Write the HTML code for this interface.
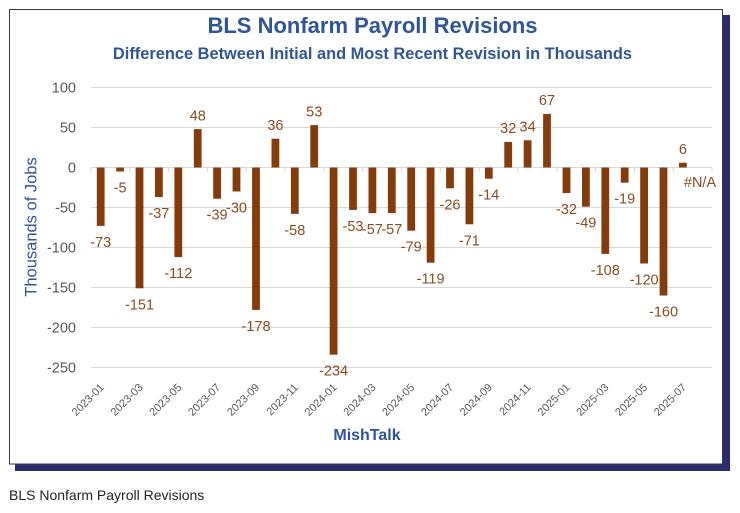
<!DOCTYPE html>
<html>
<head>
<meta charset="utf-8">
<style>
  html, body { margin:0; padding:0; background:#ffffff; }
  body { width:740px; height:513px; overflow:hidden; }
  svg { display:block; }
  text { font-family: "Liberation Sans", sans-serif; }
</style>
</head>
<body>
<svg width="740" height="513" viewBox="0 0 740 513" xmlns="http://www.w3.org/2000/svg">
  <!-- shadow -->
  <rect x="15" y="15" width="715" height="456" fill="#2a2c6e"/>
  <!-- frame -->
  <rect x="9.5" y="9.5" width="713" height="454.5" fill="#ffffff" stroke="#3a3a3a" stroke-width="1"/>

  <!-- titles -->
  <text x="372.5" y="33" text-anchor="middle" font-size="22" font-weight="bold" fill="#2f5597">BLS Nonfarm Payroll Revisions</text>
  <text x="372.5" y="59" text-anchor="middle" font-size="16.4" font-weight="bold" fill="#2f5597">Difference Between Initial and Most Recent Revision in Thousands</text>

  <!-- gridlines -->
  <g stroke="#d9d9d9" stroke-width="1">
    <line x1="91" y1="87.5" x2="712" y2="87.5"/>
    <line x1="91" y1="127.5" x2="712" y2="127.5"/>
    <line x1="91" y1="207.5" x2="712" y2="207.5"/>
    <line x1="91" y1="247.5" x2="712" y2="247.5"/>
    <line x1="91" y1="287.5" x2="712" y2="287.5"/>
    <line x1="91" y1="327.5" x2="712" y2="327.5"/>
    <line x1="91" y1="367.5" x2="712" y2="367.5"/>
    <line x1="91" y1="167.5" x2="712" y2="167.5"/>
  </g>
  <!-- ticks -->
  <g stroke="#d9d9d9" stroke-width="1">
    <line x1="91" y1="167.5" x2="91" y2="172"/>
    <line x1="129.8" y1="167.5" x2="129.8" y2="172"/>
    <line x1="168.6" y1="167.5" x2="168.6" y2="172"/>
    <line x1="207.4" y1="167.5" x2="207.4" y2="172"/>
    <line x1="246.3" y1="167.5" x2="246.3" y2="172"/>
    <line x1="285.1" y1="167.5" x2="285.1" y2="172"/>
    <line x1="323.9" y1="167.5" x2="323.9" y2="172"/>
    <line x1="362.7" y1="167.5" x2="362.7" y2="172"/>
    <line x1="401.5" y1="167.5" x2="401.5" y2="172"/>
    <line x1="440.3" y1="167.5" x2="440.3" y2="172"/>
    <line x1="479.1" y1="167.5" x2="479.1" y2="172"/>
    <line x1="517.9" y1="167.5" x2="517.9" y2="172"/>
    <line x1="556.8" y1="167.5" x2="556.8" y2="172"/>
    <line x1="595.6" y1="167.5" x2="595.6" y2="172"/>
    <line x1="634.4" y1="167.5" x2="634.4" y2="172"/>
    <line x1="673.2" y1="167.5" x2="673.2" y2="172"/>
    <line x1="712" y1="167.5" x2="712" y2="172"/>
  </g>

  <!-- y tick labels -->
  <g font-size="14.5" fill="#595959" text-anchor="end">
    <text x="76" y="92.5">100</text>
    <text x="76" y="132.5">50</text>
    <text x="76" y="172.5">0</text>
    <text x="76" y="212.5">-50</text>
    <text x="76" y="252.5">-100</text>
    <text x="76" y="292.5">-150</text>
    <text x="76" y="332.5">-200</text>
    <text x="76" y="372.5">-250</text>
  </g>

  <!-- y axis title -->
  <text transform="translate(36.5,227) rotate(-90)" text-anchor="middle" font-size="16.5" fill="#2f5597">Thousands of Jobs</text>

  <!-- bars -->
  <g fill="#843c0c">
    <rect x="96.8" y="167.5" width="7.8" height="58.4"/>
    <rect x="116.2" y="167.5" width="7.8" height="4"/>
    <rect x="135.6" y="167.5" width="7.8" height="120.8"/>
    <rect x="155.0" y="167.5" width="7.8" height="29.6"/>
    <rect x="174.4" y="167.5" width="7.8" height="89.6"/>
    <rect x="193.8" y="129.1" width="7.8" height="38.4"/>
    <rect x="213.2" y="167.5" width="7.8" height="31.2"/>
    <rect x="232.6" y="167.5" width="7.8" height="24"/>
    <rect x="252.1" y="167.5" width="7.8" height="142.4"/>
    <rect x="271.5" y="138.7" width="7.8" height="28.8"/>
    <rect x="290.9" y="167.5" width="7.8" height="46.4"/>
    <rect x="310.3" y="125.1" width="7.8" height="42.4"/>
    <rect x="329.7" y="167.5" width="7.8" height="187.2"/>
    <rect x="349.1" y="167.5" width="7.8" height="42.4"/>
    <rect x="368.5" y="167.5" width="7.8" height="45.6"/>
    <rect x="387.9" y="167.5" width="7.8" height="45.6"/>
    <rect x="407.3" y="167.5" width="7.8" height="63.2"/>
    <rect x="426.7" y="167.5" width="7.8" height="95.2"/>
    <rect x="446.1" y="167.5" width="7.8" height="20.8"/>
    <rect x="465.5" y="167.5" width="7.8" height="56.8"/>
    <rect x="484.9" y="167.5" width="7.8" height="11.2"/>
    <rect x="504.3" y="141.9" width="7.8" height="25.6"/>
    <rect x="523.7" y="140.3" width="7.8" height="27.2"/>
    <rect x="543.1" y="113.9" width="7.8" height="53.6"/>
    <rect x="562.6" y="167.5" width="7.8" height="25.6"/>
    <rect x="582.0" y="167.5" width="7.8" height="39.2"/>
    <rect x="601.4" y="167.5" width="7.8" height="86.4"/>
    <rect x="620.8" y="167.5" width="7.8" height="15.2"/>
    <rect x="640.2" y="167.5" width="7.8" height="96"/>
    <rect x="659.6" y="167.5" width="7.8" height="128"/>
    <rect x="679.0" y="162.7" width="7.8" height="4.8"/>
  </g>

  <!-- data labels -->
  <g font-size="14.5" fill="#8a4b20" text-anchor="middle">
    <text x="100.7" y="246.9">-73</text>
    <text x="120.1" y="192.5">-5</text>
    <text x="139.5" y="309.3">-151</text>
    <text x="158.9" y="218.1">-37</text>
    <text x="178.3" y="278.1">-112</text>
    <text x="197.7" y="120.3">48</text>
    <text x="217.1" y="219.7">-39</text>
    <text x="236.5" y="212.5">-30</text>
    <text x="256.0" y="330.9">-178</text>
    <text x="275.4" y="129.9">36</text>
    <text x="294.8" y="234.9">-58</text>
    <text x="314.2" y="116.3">53</text>
    <text x="333.6" y="375.7">-234</text>
    <text x="353.0" y="230.9">-53</text>
    <text x="372.4" y="234.1">-57</text>
    <text x="391.8" y="234.1">-57</text>
    <text x="411.2" y="251.7">-79</text>
    <text x="430.6" y="283.7">-119</text>
    <text x="450.0" y="209.3">-26</text>
    <text x="469.4" y="245.3">-71</text>
    <text x="488.8" y="199.7">-14</text>
    <text x="508.2" y="133.1">32</text>
    <text x="527.6" y="131.5">34</text>
    <text x="547.0" y="105.1">67</text>
    <text x="566.5" y="214.1">-32</text>
    <text x="585.9" y="227.7">-49</text>
    <text x="605.3" y="274.9">-108</text>
    <text x="624.7" y="203.7">-19</text>
    <text x="644.1" y="284.5">-120</text>
    <text x="663.5" y="316.5">-160</text>
    <text x="682.9" y="153.9">6</text>
    <text x="700" y="187">#N/A</text>
  </g>

  <!-- x tick labels -->
  <g font-size="11" fill="#595959" text-anchor="end">
    <text transform="translate(104.7,388) rotate(-45)">2023-01</text>
    <text transform="translate(143.5,388) rotate(-45)">2023-03</text>
    <text transform="translate(182.3,388) rotate(-45)">2023-05</text>
    <text transform="translate(221.1,388) rotate(-45)">2023-07</text>
    <text transform="translate(260.0,388) rotate(-45)">2023-09</text>
    <text transform="translate(298.8,388) rotate(-45)">2023-11</text>
    <text transform="translate(337.6,388) rotate(-45)">2024-01</text>
    <text transform="translate(376.4,388) rotate(-45)">2024-03</text>
    <text transform="translate(415.2,388) rotate(-45)">2024-05</text>
    <text transform="translate(454.0,388) rotate(-45)">2024-07</text>
    <text transform="translate(492.8,388) rotate(-45)">2024-09</text>
    <text transform="translate(531.6,388) rotate(-45)">2024-11</text>
    <text transform="translate(570.5,388) rotate(-45)">2025-01</text>
    <text transform="translate(609.3,388) rotate(-45)">2025-03</text>
    <text transform="translate(648.1,388) rotate(-45)">2025-05</text>
    <text transform="translate(686.9,388) rotate(-45)">2025-07</text>
  </g>

  <!-- x axis title -->
  <text x="367" y="440" text-anchor="middle" font-size="16" font-weight="bold" fill="#2f5597">MishTalk</text>

  <!-- caption -->
  <text x="9" y="500" font-size="14" fill="#222222">BLS Nonfarm Payroll Revisions</text>
</svg>
</body>
</html>
